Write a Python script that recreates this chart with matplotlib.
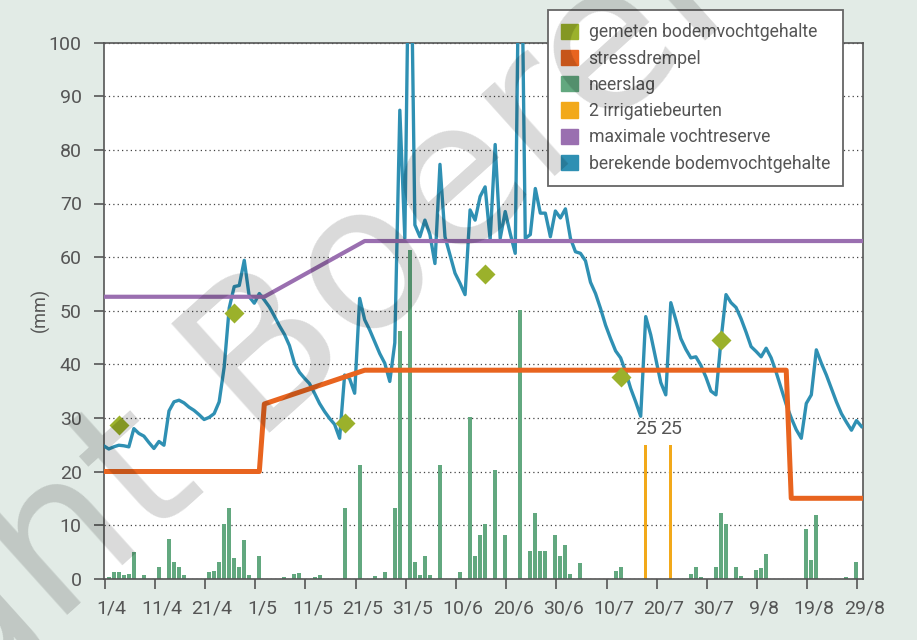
import matplotlib.pyplot as plt
import numpy as np
from matplotlib.patches import Patch
from matplotlib import transforms

plt.rcParams['font.family'] = ['Liberation Sans Narrow', 'Roboto', 'DejaVu Sans']

# x-as: dag 0 = 1/4, een label om de 10 dagen
datum_labels = ['1/4', '11/4', '21/4', '1/5', '11/5', '21/5', '31/5', '10/6',
                '20/6', '30/6', '10/7', '20/7', '30/7', '9/8', '19/8', '29/8']

# berekende bodemvochtgehalte (mm), 1 waarde per dag
bodemvocht = [
    24.8, 24.2, 24.6, 24.9, 24.8, 24.6, 28.0, 27.1, 26.6, 25.4,
    24.3, 25.6, 24.9, 31.3, 33.0, 33.3, 32.8, 32.0, 31.4, 30.6,
    29.7, 30.1, 30.8, 33.0, 39.5, 50.5, 54.5, 54.7, 59.4, 52.6,
    51.4, 53.2, 52.0, 50.7, 49.0, 47.2, 45.6, 43.5, 40.2, 38.5,
    37.4, 36.4, 34.6, 32.7, 31.2, 29.9, 28.8, 26.2, 38.0, 37.3,
    34.6, 52.3, 48.3, 46.4, 44.2, 42.0, 40.2, 36.8, 44.0, 87.4,
    63.5, 135.0, 66.0, 63.8, 66.9, 64.2, 58.8, 77.3, 63.8, 60.4,
    57.0, 55.1, 53.0, 68.8, 66.9, 71.3, 73.1, 63.3, 81.0, 63.5,
    68.5, 64.4, 60.7, 140.0, 63.5, 64.2, 72.8, 68.2, 68.2, 63.8,
    68.6, 67.3, 69.0, 63.5, 61.0, 60.7, 59.3, 55.3, 53.2, 50.4,
    47.3, 44.8, 42.5, 41.2, 38.6, 35.5, 33.0, 30.3, 48.9, 45.5,
    41.0, 36.6, 34.3, 51.5, 48.3, 44.8, 42.8, 41.2, 41.4, 39.8,
    37.6, 35.0, 34.3, 44.5, 53.0, 51.5, 50.6, 48.5, 46.0, 43.3,
    42.4, 41.4, 43.0, 41.2, 38.5, 35.5, 32.5, 30.0, 27.8, 26.2,
    32.7, 34.3, 42.7, 40.2, 38.0, 35.5, 33.0, 30.8, 29.2, 27.7,
    29.5, 28.4,
]

neerslag_dag = [1, 2, 3, 4, 5, 6, 8, 11, 13, 14, 15, 16, 21, 22, 23, 24, 25, 26,
                27, 28, 29, 31, 36, 38, 39, 42, 43, 48, 51, 54, 56, 58, 59, 61,
                62, 63, 64, 65, 67, 71, 73, 74, 75, 76, 78, 80, 83, 85, 86, 87,
                88, 90, 91, 92, 93, 95, 102, 103, 117, 118, 119, 122, 123, 124,
                126, 127, 130, 131, 132, 140, 141, 142, 148, 150]
neerslag_mm = [0.4, 1.2, 1.2, 0.6, 0.9, 4.9, 0.6, 2.2, 7.4, 3.2, 2.2, 0.6, 1.2,
               1.4, 3.2, 10.2, 13.2, 3.8, 2.2, 7.2, 0.6, 4.2, 0.4, 0.9, 1.1, 0.3,
               0.6, 13.2, 21.2, 0.5, 1.2, 13.2, 46.2, 61.3, 3.2, 0.6, 4.2, 0.6,
               21.2, 1.2, 30.2, 4.2, 8.1, 10.2, 20.2, 8.1, 50.2, 5.2, 12.2, 5.2,
               5.2, 8.1, 4.2, 6.2, 0.9, 3.0, 1.4, 2.2, 0.9, 2.2, 0.4, 2.2, 12.2,
               10.2, 2.2, 0.5, 1.7, 2.0, 4.6, 9.2, 3.5, 11.9, 0.4, 3.2]

irrigatie_dag = [108, 113]
irrigatie_mm = [25, 25]

gemeten_dag = [3, 26, 48, 76, 103, 123]
gemeten_mm = [28.7, 49.5, 29.1, 56.9, 37.6, 44.5]

stress_dag = [0, 31, 32, 52, 136, 137, 151]
stress_mm = [20, 20, 32.6, 38.9, 38.9, 15, 15]

reserve_dag = [0, 32, 52, 151]
reserve_mm = [52.6, 52.6, 63.0, 63.0]

c_gemeten = '#9bb12b'
c_stress = '#e8641f'
c_neerslag = '#62a87f'
c_irrigatie = '#f2a91a'
c_reserve = '#9a6fb0'
c_berekend = '#2f90b3'
grijs = '#555555'

fig = plt.figure(figsize=(9.17, 6.4), dpi=100, facecolor='#e2ebe6')
ax = fig.add_axes([104 / 917, 1 - 578.7 / 640, 759 / 917, 536 / 640])

shift = -0.2
ax.bar(np.array(neerslag_dag) + shift, neerslag_mm, width=0.8, color=c_neerslag, zorder=2)
ax.bar(np.array(irrigatie_dag) + shift, irrigatie_mm, width=0.65, color=c_irrigatie, zorder=2)
for d, v in zip(irrigatie_dag, irrigatie_mm):
    ax.text(d + shift, v + 1.3, str(v), ha='center', va='bottom', fontsize=14, color=grijs)

ax.plot(np.arange(len(bodemvocht)) + shift, bodemvocht, color=c_berekend, lw=2.4,
        zorder=3, solid_joinstyle='round')
ax.plot(np.array(reserve_dag) + shift, reserve_mm, color=c_reserve, lw=3, zorder=4)
ax.plot(np.array(stress_dag) + shift, stress_mm, color=c_stress, lw=3.6, zorder=5)
ax.plot(np.array(gemeten_dag) + shift, gemeten_mm, 'D', color=c_gemeten, ms=10,
        mec='none', zorder=6)

ax.set_xlim(-0.15, 151.1)
ax.set_ylim(0, 100)
ax.set_xticks(np.arange(0, 151, 10))
ax.set_xticklabels(datum_labels)
ax.set_yticks(np.arange(0, 101, 10))
ax.yaxis.grid(True, linestyle=(0, (1, 2.5)), color='#444444', lw=0.9)
ax.set_axisbelow(True)
for s in ax.spines.values():
    s.set_color(grijs)
    s.set_linewidth(1.2)
ax.tick_params(direction='out', length=7, width=1.2, color=grijs, labelcolor=grijs,
               labelsize=14)
ax.tick_params(axis='y', pad=9)
ax.tick_params(axis='x', pad=8)
verschuif = transforms.ScaledTranslation(0.07, 0, fig.dpi_scale_trans)
for lbl in ax.get_xticklabels():
    lbl.set_transform(lbl.get_transform() + verschuif)

fig.text(40 / 917, 1 - 310 / 640, '(mm)', rotation=90, ha='center', va='center',
         fontsize=13, color=grijs)

handles = [Patch(color=c) for c in [c_gemeten, c_stress, c_neerslag, c_irrigatie,
                                    c_reserve, c_berekend]]
labels = ['gemeten bodemvochtgehalte', 'stressdrempel', 'neerslag',
          '2 irrigatiebeurten', 'maximale vochtreserve', 'berekende bodemvochtgehalte']
leg = fig.legend(handles, labels, loc='upper left', bbox_to_anchor=(548 / 917, 1 - 10 / 640),
                 fontsize=12.7, handlelength=0.95, handleheight=0.95, handletextpad=0.6,
                 labelspacing=0.47, borderpad=0.75, borderaxespad=0, fancybox=False,
                 framealpha=1, edgecolor='#666666')
leg.get_frame().set_linewidth(1.3)
for t in leg.get_texts():
    t.set_color(grijs)

# watermerk
fig.text(-0.570, -0.792, 'Copyright Boerenbond', rotation=42, rotation_mode='anchor',
         ha='left', va='baseline', fontsize=145, family='DejaVu Sans', color='black',
         alpha=0.15, zorder=10)

fig.savefig('out.png', dpi=100, facecolor=fig.get_facecolor())
